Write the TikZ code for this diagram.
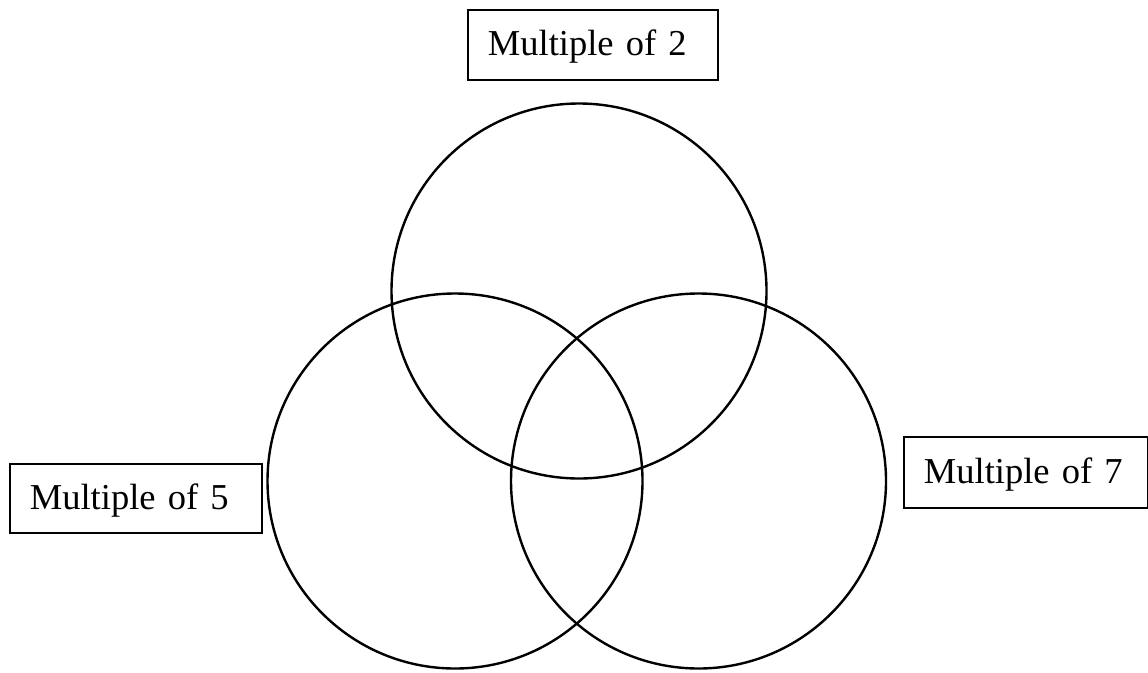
\documentclass[tikz,border=0pt]{standalone}
\usepackage{fontspec}
\setmainfont{Liberation Serif}
\begin{document}
\begin{tikzpicture}[x=1pt,y=-1pt,
  setcircle/.style={draw=black,line width=2.4pt},
  labelbox/.style={draw=black,line width=1.8pt,font=\fontsize{36.5}{40}\selectfont,
    inner xsep=20pt,inner ysep=0pt,align=left,anchor=north west,text height=30pt,text depth=8pt}]
\useasboundingbox (0,0) rectangle (1148,672);
\draw[setcircle] (579,291) circle[radius=187.5] coordinate (ctop);
\draw[setcircle] (455,481) circle[radius=187.5] coordinate (cleft);
\draw[setcircle] (698.5,481) circle[radius=187.5] coordinate (cright);
\node[labelbox,text width=210pt,minimum height=70pt] (two) at (467,9) {Multiple of 2};
\node[labelbox,text width=212pt,minimum height=69pt] (five) at (9,463) {Multiple of 5};
\node[labelbox,text width=204pt,minimum height=71pt] (seven) at (903,436) {Multiple of 7};
\end{tikzpicture}
\end{document}
